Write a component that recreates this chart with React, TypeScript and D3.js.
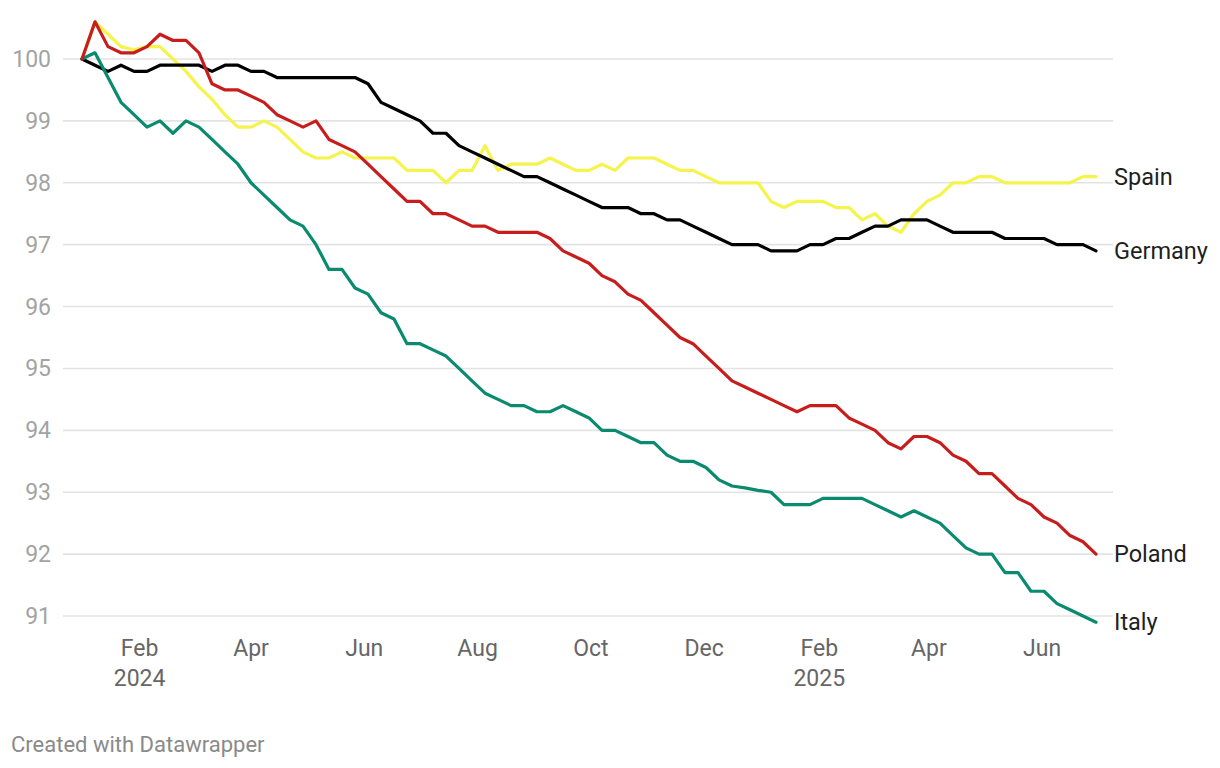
import React from 'react';
import * as d3 from 'd3';

// Weekly index values (first week of Jan 2024 = 100)
const START_DATE = new Date(2024, 0, 1);

const germany = [
  100.0, 99.9, 99.8, 99.9, 99.8, 99.8, 99.9, 99.9, 99.9, 99.9,
  99.8, 99.9, 99.9, 99.8, 99.8, 99.7, 99.7, 99.7, 99.7, 99.7,
  99.7, 99.7, 99.6, 99.3, 99.2, 99.1, 99.0, 98.8, 98.8, 98.6,
  98.5, 98.4, 98.3, 98.2, 98.1, 98.1, 98.0, 97.9, 97.8, 97.7,
  97.6, 97.6, 97.6, 97.5, 97.5, 97.4, 97.4, 97.3, 97.2, 97.1,
  97.0, 97.0, 97.0, 96.9, 96.9, 96.9, 97.0, 97.0, 97.1, 97.1,
  97.2, 97.3, 97.3, 97.4, 97.4, 97.4, 97.3, 97.2, 97.2, 97.2,
  97.2, 97.1, 97.1, 97.1, 97.1, 97.0, 97.0, 97.0, 96.9,
];

const spain = [
  100.0, 100.6, 100.4, 100.2, 100.15, 100.2, 100.2, 100.0, 99.8, 99.55,
  99.35, 99.1, 98.9, 98.9, 99.0, 98.9, 98.7, 98.5, 98.4, 98.4,
  98.5, 98.4, 98.4, 98.4, 98.4, 98.2, 98.2, 98.2, 98.0, 98.2,
  98.2, 98.6, 98.2, 98.3, 98.3, 98.3, 98.4, 98.3, 98.2, 98.2,
  98.3, 98.2, 98.4, 98.4, 98.4, 98.3, 98.2, 98.2, 98.1, 98.0,
  98.0, 98.0, 98.0, 97.7, 97.6, 97.7, 97.7, 97.7, 97.6, 97.6,
  97.4, 97.5, 97.3, 97.2, 97.5, 97.7, 97.8, 98.0, 98.0, 98.1,
  98.1, 98.0, 98.0, 98.0, 98.0, 98.0, 98.0, 98.1, 98.1,
];

const poland = [
  100.0, 100.6, 100.2, 100.1, 100.1, 100.2, 100.4, 100.3, 100.3, 100.1,
  99.6, 99.5, 99.5, 99.4, 99.3, 99.1, 99.0, 98.9, 99.0, 98.7,
  98.6, 98.5, 98.3, 98.1, 97.9, 97.7, 97.7, 97.5, 97.5, 97.4,
  97.3, 97.3, 97.2, 97.2, 97.2, 97.2, 97.1, 96.9, 96.8, 96.7,
  96.5, 96.4, 96.2, 96.1, 95.9, 95.7, 95.5, 95.4, 95.2, 95.0,
  94.8, 94.7, 94.6, 94.5, 94.4, 94.3, 94.4, 94.4, 94.4, 94.2,
  94.1, 94.0, 93.8, 93.7, 93.9, 93.9, 93.8, 93.6, 93.5, 93.3,
  93.3, 93.1, 92.9, 92.8, 92.6, 92.5, 92.3, 92.2, 92.0,
];

const italy = [
  100.0, 100.1, 99.7, 99.3, 99.1, 98.9, 99.0, 98.8, 99.0, 98.9,
  98.7, 98.5, 98.3, 98.0, 97.8, 97.6, 97.4, 97.3, 97.0, 96.6,
  96.6, 96.3, 96.2, 95.9, 95.8, 95.4, 95.4, 95.3, 95.2, 95.0,
  94.8, 94.6, 94.5, 94.4, 94.4, 94.3, 94.3, 94.4, 94.3, 94.2,
  94.0, 94.0, 93.9, 93.8, 93.8, 93.6, 93.5, 93.5, 93.4, 93.2,
  93.1, 93.07, 93.03, 93.0, 92.8, 92.8, 92.8, 92.9, 92.9, 92.9,
  92.9, 92.8, 92.7, 92.6, 92.7, 92.6, 92.5, 92.3, 92.1, 92.0,
  92.0, 91.7, 91.7, 91.4, 91.4, 91.2, 91.1, 91.0, 90.9,
];

const seriesNames = ['Spain', 'Germany', 'Italy', 'Poland'];
const seriesValues = [spain, germany, italy, poland];
const seriesColors = ['#f4f44c', '#000000', '#0a8a6e', '#c71e1d'];

const yTicks = [91, 92, 93, 94, 95, 96, 97, 98, 99, 100];
const xTickDates = [
  new Date(2024, 1, 1), new Date(2024, 3, 1), new Date(2024, 5, 1),
  new Date(2024, 7, 1), new Date(2024, 9, 1), new Date(2024, 11, 1),
  new Date(2025, 1, 1), new Date(2025, 3, 1), new Date(2025, 5, 1),
];
const xTickMonths = ['Feb', 'Apr', 'Jun', 'Aug', 'Oct', 'Dec', 'Feb', 'Apr', 'Jun'];
const xTickYears = ['2024', '', '', '', '', '', '2025', '', ''];

const W = 1220;
const H = 768;
const FONT = 'Roboto, "Noto Sans", sans-serif';

export default function App() {
  const dates = spain.map((_, i) => d3.timeWeek.offset(START_DATE, i));
  const x = d3
    .scaleTime()
    .domain([START_DATE, dates[dates.length - 1]])
    .range([82, 1096]);
  const y = d3.scaleLinear().domain([91, 100]).range([616, 59]);

  const line = d3
    .line<number>()
    .x((_, i) => x(dates[i]))
    .y((d) => y(d));

  return (
    <svg
      width={W}
      height={H}
      style={{ position: 'absolute', left: 0, top: 0, background: '#fff', fontFamily: FONT }}
    >
      <rect x={0} y={0} width={W} height={H} fill="#fff" />
      {yTicks.map((t) => (
        <g key={t}>
          <line x1={63} x2={1113} y1={y(t)} y2={y(t)} stroke="#e3e3e3" strokeWidth={1.6} />
          <text
            x={51}
            y={y(t)}
            dy="0.35em"
            textAnchor="end"
            fontSize={23}
            fill="#a3a3a3"
          >
            {t}
          </text>
        </g>
      ))}
      {xTickDates.map((d, i) => (
        <g key={i}>
          <text x={x(d)} y={656} textAnchor="middle" fontSize={23} fill="#666">
            {xTickMonths[i]}
          </text>
          {xTickYears[i] && (
            <text x={x(d)} y={686} textAnchor="middle" fontSize={23} fill="#666">
              {xTickYears[i]}
            </text>
          )}
        </g>
      ))}
      {seriesValues.map((vals, si) => (
        <path
          key={seriesNames[si]}
          d={line(vals) || ''}
          fill="none"
          stroke={seriesColors[si]}
          strokeWidth={3.2}
          strokeLinejoin="round"
          strokeLinecap="round"
        />
      ))}
      {seriesValues.map((vals, si) => (
        <text
          key={'l' + si}
          x={1114}
          y={y(vals[vals.length - 1])}
          dy="0.35em"
          fontSize={23.5}
          fill="#1f1f1f"
        >
          {seriesNames[si]}
        </text>
      ))}
      <text x={11} y={752} fontSize={22} fill="#8a8a8a">
        Created with Datawrapper
      </text>
    </svg>
  );
}
